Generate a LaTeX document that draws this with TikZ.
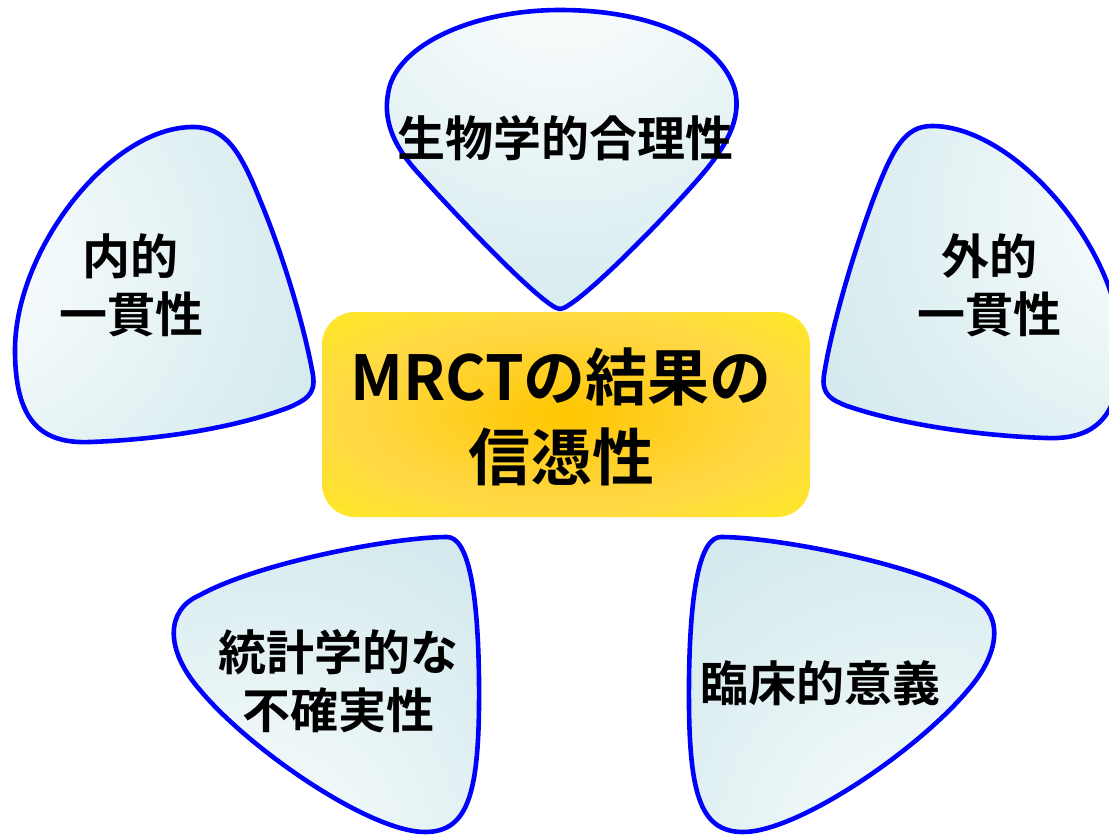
\documentclass[tikz,border=0pt]{standalone}
\usepackage{fontspec}
\newfontfamily\cjk{Noto Sans CJK JP}[BoldFont={Noto Sans CJK JP Bold}]
\definecolor{pblue}{RGB}{198,227,232}
\definecolor{pwhite}{RGB}{251,253,253}
\definecolor{pline}{RGB}{0,0,255}
\definecolor{cgold}{RGB}{255,198,0}
\definecolor{cmid}{RGB}{255,216,70}
\definecolor{cyel}{RGB}{255,250,0}
\pgfdeclareradialshading{shTL}{\pgfpoint{-40bp}{5bp}}{color(0bp)=(pwhite); color(6bp)=(pwhite); color(65bp)=(pblue); color(100bp)=(pblue)}
\pgfdeclareradialshading{shT}{\pgfpoint{0bp}{37bp}}{color(0bp)=(pwhite); color(6bp)=(pwhite); color(65bp)=(pblue); color(100bp)=(pblue)}
\pgfdeclareradialshading{shTR}{\pgfpoint{40bp}{15bp}}{color(0bp)=(pwhite); color(6bp)=(pwhite); color(65bp)=(pblue); color(100bp)=(pblue)}
\pgfdeclareradialshading{shBL}{\pgfpoint{-16bp}{-38bp}}{color(0bp)=(pwhite); color(6bp)=(pwhite); color(65bp)=(pblue); color(100bp)=(pblue)}
\pgfdeclareradialshading{shBR}{\pgfpoint{18bp}{-38bp}}{color(0bp)=(pwhite); color(6bp)=(pwhite); color(65bp)=(pblue); color(100bp)=(pblue)}
\pgfdeclareradialshading{shcore}{\pgfpoint{0bp}{0bp}}{color(0bp)=(cgold); color(22bp)=(cmid); color(50bp)=(cyel); color(100bp)=(cyel)}
\tikzset{
  petal/.style={draw=pline, line width=4.6pt, line join=round},
  petaltext/.style={inner sep=0pt, align=center, font=\cjk\bfseries\fontsize{48}{58}\selectfont},
  coretext/.style={inner sep=0pt, align=center, font=\cjk\bfseries\fontsize{62}{80}\selectfont},
}
\begin{document}
\begin{tikzpicture}[x=1pt,y=-1pt]
\useasboundingbox (0,0) rectangle (1109,835);
% top petal
\shade[petal, shading=shT] (560,309) .. controls (546,309) and (468,228) .. (420,175) .. controls (395,148) and (380,120) .. (390,85) .. controls (405,40) and (480,10) .. (560,10) .. controls (650,10) and (720,40) .. (735,90) .. controls (742,120) and (725,148) .. (700,177) .. controls (652,232) and (574,309) .. (560,309) -- cycle;
% left petal
\shade[petal, shading=shTL] (193,127) .. controls (225,127) and (240,150) .. (260,200) .. controls (285,260) and (305,330) .. (313,375) .. controls (316,395) and (305,400) .. (290,407) .. controls (230,430) and (150,440) .. (90,442) .. controls (40,444) and (15,420) .. (15,350) .. controls (15,250) and (110,127) .. (193,127) -- cycle;
% right petal
\shade[petal, shading=shTR] (932,126) .. controls (904,126) and (892,150) .. (873,200) .. controls (851,260) and (831,330) .. (824,375) .. controls (821,395) and (832,400) .. (847,406) .. controls (906,426) and (986,436) .. (1046,438) .. controls (1096,440) and (1121,416) .. (1121,350) .. controls (1121,250) and (1015,126) .. (932,126) -- cycle;
% bottom-left petal
\shade[petal, shading=shBL] (447,537) .. controls (468,537) and (478,590) .. (479,680) .. controls (480,790) and (470,832) .. (425,832) .. controls (370,832) and (250,750) .. (200,690) .. controls (165,650) and (165,610) .. (200,595) .. controls (260,562) and (395,537) .. (447,537) -- cycle;
% bottom-right petal
\shade[petal, shading=shBR] (721,537) .. controls (700,537) and (690,590) .. (689,680) .. controls (688,790) and (698,832) .. (743,832) .. controls (798,832) and (918,750) .. (968,690) .. controls (1003,650) and (1003,610) .. (968,595) .. controls (908,562) and (773,537) .. (721,537) -- cycle;
% core box
\node[shading=shcore, rounded corners=33pt, minimum width=488pt, minimum height=205pt, inner sep=0pt] (core) at (566,414.5) {};
\node[coretext] (title) at (561,417) {MRCTの結果の\\信憑性};
% petal texts
\node[petaltext] (bio) at (565,138) {生物学的合理性};
\node[petaltext] (inner) at (131,285) {内的\\一貫性};
\node[petaltext] (outer) at (989,285) {外的\\一貫性};
\node[petaltext] (stat) at (338,681) {統計学的な\\不確実性};
\node[petaltext] (clin) at (820,683) {臨床的意義};
\end{tikzpicture}
\end{document}
